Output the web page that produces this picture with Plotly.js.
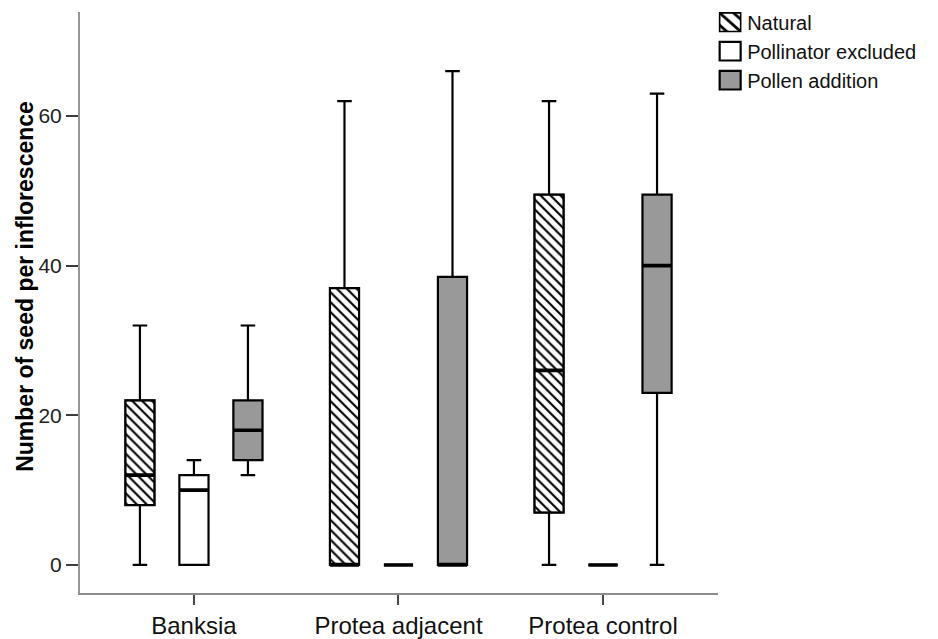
<!DOCTYPE html>
<html>
<head>
<meta charset="utf-8">
<script src="https://cdn.plot.ly/plotly-3.0.1.min.js"></script>
<style>
  html, body { margin: 0; padding: 0; background: #fff; }
  #chart { width: 938px; height: 639px; }
  /* larger legend swatches */
  #chart .legend .legendpoints path {
    transform: translate(23px, 0px) scale(1.75, 1.55);
    vector-effect: non-scaling-stroke;
  }
</style>
</head>
<body>
<div id="chart"></div>
<script>
// Sites on the x axis
const sites = ['Banksia', 'Protea adjacent', 'Protea control'];

// Five-number summaries per treatment (seeds per inflorescence)
const naturalMin    = [0, 0, 0];
const naturalQ1     = [8, 0, 7];
const naturalMedian = [12, 0, 26];
const naturalQ3     = [22, 37, 49.5];
const naturalMax    = [32, 62, 62];

const excludedMin    = [0, 0, 0];
const excludedQ1     = [0, 0, 0];
const excludedMedian = [10, 0, 0];
const excludedQ3     = [12, 0, 0];
const excludedMax    = [14, 0, 0];

const additionMin    = [12, 0, 0];
const additionQ1     = [14, 0, 23];
const additionMedian = [18, 0, 40];
const additionQ3     = [22, 38.5, 49.5];
const additionMax    = [32, 66, 63];

const treatmentNames = ['Natural', 'Pollinator excluded', 'Pollen addition'];
const yTicks = [0, 20, 40, 60];
const yTitle = 'Number of seed per inflorescence';

// Box grouping geometry (category units)
const BOXGAP = 0.208;
const BOXGROUPGAP = 0.46;
const slot = (1 - BOXGAP) / 3;
const boxW = slot * (1 - BOXGROUPGAP);

const FONT = 'Liberation Sans, Arial, sans-serif';
const LINE = 'rgb(0,0,0)';
const BOX_LW = 2.2;

function boxTrace(name, group, lo, q1, med, q3, hi, fill, show) {
  return {
    type: 'box', name: name, x: sites, offsetgroup: group, alignmentgroup: 'boxes',
    q1: q1, median: med, q3: q3, lowerfence: lo, upperfence: hi,
    fillcolor: fill, line: { color: LINE, width: BOX_LW },
    whiskerwidth: 0.5, boxpoints: false, showlegend: show,
    hoverinfo: 'skip'
  };
}

// thick median bars: a flat box sitting at the median value
function medianTrace(group, med) {
  return {
    type: 'box', x: sites, offsetgroup: group, alignmentgroup: 'boxes',
    q1: med, median: med, q3: med, lowerfence: med, upperfence: med,
    fillcolor: 'rgba(0,0,0,0)', line: { color: LINE, width: 3.6 },
    whiskerwidth: 0, boxpoints: false, showlegend: false, hoverinfo: 'skip'
  };
}

const naturalSpan = naturalQ3.map((v, i) => v - naturalQ1[i]);

const data = [
  // hatched fill behind the natural boxes
  {
    type: 'bar', name: treatmentNames[0], x: sites, y: naturalSpan, base: naturalQ1,
    alignmentgroup: 'hatch', offsetgroup: 'hatch',
    offset: -slot - boxW / 2, width: boxW,
    marker: {
      color: 'white',
      line: { color: LINE, width: 1.6 },
      pattern: { shape: '\\', fgcolor: 'black', bgcolor: 'white', size: 7, solidity: 0.3 }
    },
    showlegend: true, hoverinfo: 'skip'
  },
  boxTrace(treatmentNames[0], 'n', naturalMin, naturalQ1, naturalMedian, naturalQ3, naturalMax, 'rgba(0,0,0,0)', false),
  boxTrace(treatmentNames[1], 'e', excludedMin, excludedQ1, excludedMedian, excludedQ3, excludedMax, 'white', true),
  boxTrace(treatmentNames[2], 'a', additionMin, additionQ1, additionMedian, additionQ3, additionMax, 'rgb(153,153,153)', true),
  medianTrace('n', naturalMedian),
  medianTrace('e', excludedMedian),
  medianTrace('a', additionMedian)
];

const layout = {
  width: 938, height: 639,
  margin: { l: 80, r: 220, t: 12, b: 46, autoexpand: false },
  paper_bgcolor: 'white', plot_bgcolor: 'white',
  font: { family: FONT, size: 20, color: '#222' },
  boxmode: 'group', boxgap: BOXGAP, boxgroupgap: BOXGROUPGAP,
  barmode: 'overlay',
  showlegend: true,
  legend: {
    x: 0.983, xanchor: 'left', y: 1.016, yanchor: 'top',
    bgcolor: 'rgba(0,0,0,0)', borderwidth: 0,
    font: { family: FONT, size: 20, color: '#111' },
    itemwidth: 30, tracegroupgap: 0, traceorder: 'normal'
  },
  xaxis: {
    type: 'category', range: [-0.557, 2.562],
    showline: true, linecolor: 'rgb(140,140,140)', linewidth: 2,
    ticks: 'outside', ticklen: 10, tickwidth: 2, tickcolor: 'rgb(70,70,70)',
    showgrid: false, zeroline: false, fixedrange: true,
    tickfont: { family: FONT, size: 24, color: '#111' }
  },
  yaxis: {
    range: [-3.75, 73.9],
    tickvals: yTicks, ticktext: yTicks.map(String),
    showline: true, linecolor: 'rgb(150,150,150)', linewidth: 2,
    ticks: 'outside', ticklen: 12, tickwidth: 2, tickcolor: 'rgb(60,60,60)',
    showgrid: false, zeroline: false, fixedrange: true,
    tickfont: { family: FONT, size: 21, color: '#222' }
  },
  annotations: [{
    text: '<b>' + yTitle + '</b>',
    xref: 'paper', yref: 'paper', x: 0, y: 0.527, xshift: -55,
    xanchor: 'center', yanchor: 'middle', textangle: -90, showarrow: false,
    font: { family: FONT, size: 23, color: '#000' }
  }]
};

Plotly.newPlot('chart', data, layout, { displayModeBar: false, staticPlot: true });
</script>
</body>
</html>
